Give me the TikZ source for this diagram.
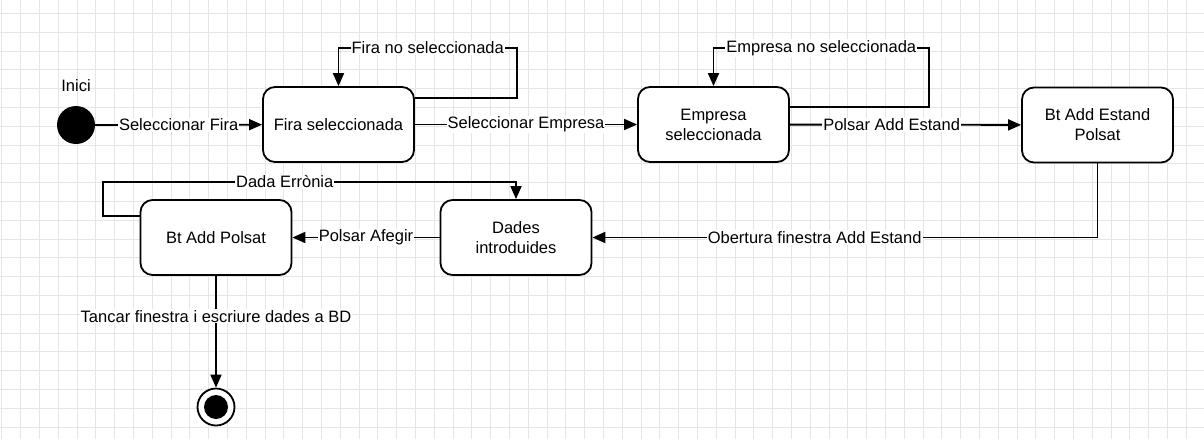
\documentclass[tikz,border=0pt]{standalone}
\usepackage{fontspec}
\setmainfont{Liberation Sans}
\usetikzlibrary{arrows.meta}

\begin{document}
\begin{tikzpicture}[x=1pt,y=-1pt,font=\fontsize{16.5}{20}\selectfont]
    \tikzset{state box/.style={draw,rounded corners=12pt,line width=1.8pt,minimum width=151pt,minimum height=75pt,align=center,fill=white}}
    \tikzset{trans/.style={draw,line width=1.8pt,-{Triangle[length=13pt,width=11pt]}}}
    \tikzset{trans label/.style={fill=white,inner sep=1pt}}
    \tikzset{grid line/.style={draw=gray!20,line width=0.8pt}}

    \useasboundingbox (0,0) rectangle (1204,439);
    \fill[white] (0,0) rectangle (1204,439);
    \foreach \gx in {1.7,20.5,...,1204} \draw[grid line] (\gx,0) -- (\gx,439);
    \foreach \gy in {13.3,32.1,...,439} \draw[grid line] (0,\gy) -- (1204,\gy);

    % states
    \node [circle,fill=black,minimum size=38pt,inner sep=0pt] (inici) at (76,125) {};
    \node (inici-label) at (76,86) {Inici};
    \node [state box] (fira) at (338.5,124.5) {Fira seleccionada};
    \node [state box] (empresa) at (713.5,124.5) {Empresa\\seleccionada};
    \node [state box] (bt-estand) at (1097.5,125) {Bt Add Estand\\Polsat};
    \node [state box] (dades) at (516,237.5) {Dades\\introduides};
    \node [state box] (bt-polsat) at (216,237.5) {Bt Add Polsat};
    \node [circle,draw,line width=1.8pt,minimum size=37pt,inner sep=0pt,fill=white] (fi) at (216,407) {};
    \node [circle,fill=black,minimum size=24pt,inner sep=0pt] (fi-dot) at (fi) {};

    % turning points of the loops
    \coordinate (fira-loop) at (517,48);
    \coordinate (empresa-loop) at (929,48);
    \coordinate (error-loop) at (103,182);

    % transitions
    \draw [trans] (inici) -- node [trans label] {Seleccionar Fira} (fira);
    \draw [trans] ([yshift=26.5pt]fira.east) -| (fira-loop) -| node [trans label,pos=0.25] {Fira no seleccionada} (fira.north);
    \draw [trans] (fira) -- node [trans label] {Seleccionar Empresa} (empresa);
    \draw [trans] ([yshift=17.5pt]empresa.east) -| (empresa-loop) -| node [trans label,pos=0.25] {Empresa no seleccionada} (empresa.north);
    \draw [trans] (empresa) -- node [trans label,pos=0.44] {Polsar Add Estand} (bt-estand);
    \draw [trans] (bt-estand.south) |- node [trans label,pos=0.78] {Obertura finestra Add Estand} (dades.east);
    \draw [trans] (dades) -- node [trans label] {Polsar Afegir} (bt-polsat);
    \draw [trans] ([yshift=21.5pt]bt-polsat.west) -| (error-loop) -| node [trans label,pos=0.22] {Dada Errònia} (dades.north);
    \draw [trans] (bt-polsat) -- node [trans label,pos=0.36] {Tancar finestra i escriure dades a BD} (fi);
\end{tikzpicture}
\end{document}
